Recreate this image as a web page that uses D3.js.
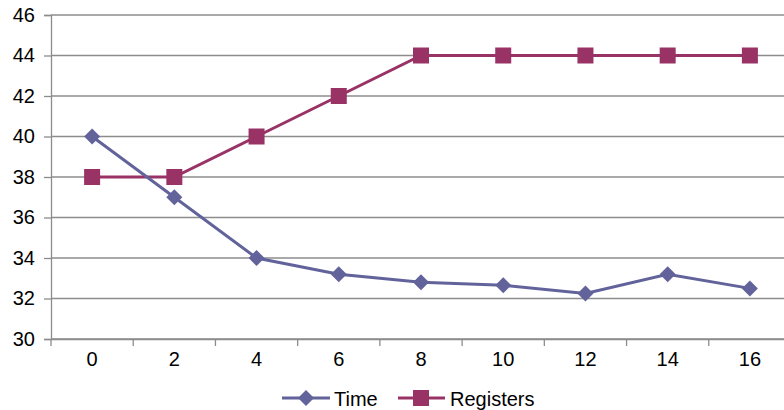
<!DOCTYPE html>
<html><head><meta charset="utf-8">
<script src="https://cdn.jsdelivr.net/npm/d3@7"></script>
<style>body{margin:0;background:#fff}svg{display:block}text{font-family:"Liberation Sans",Arial,sans-serif}</style>
</head><body>
<svg id="c" width="784" height="410"></svg>
<script>
const categories = ["0","2","4","6","8","10","12","14","16"];
const timeValues = [40, 37, 34, 33.2, 32.8, 32.65, 32.25, 33.2, 32.5];
const registerValues = [38, 38, 40, 42, 44, 44, 44, 44, 44];
const yTicks = [30, 32, 34, 36, 38, 40, 42, 44, 46];
const seriesNames = ["Time", "Registers"];

(function () {
const svg = d3.select("#c");
const mLeft = 51, mTop = 15, mBottom = 339, mRight = 791;
const fs = 20;
const x = d3.scaleBand().domain(categories).range([mLeft, mRight]);
const y = d3.scaleLinear().domain([30, 46]).range([mBottom, mTop]);
const grey = "#8c8c8c";
const colors = ["#62639b", "#993366"];

// gridlines
svg.append("g").selectAll("line").data(yTicks).join("line")
  .attr("x1", mLeft).attr("x2", mRight)
  .attr("y1", d => y(d)).attr("y2", d => y(d))
  .attr("stroke", grey).attr("stroke-width", 1.3);

// y axis
const yAxis = svg.append("g").attr("transform", `translate(${mLeft},0)`)
  .call(d3.axisLeft(y).tickValues(yTicks).tickSize(7).tickPadding(9));
yAxis.select(".domain").attr("stroke", grey).attr("stroke-width", 1.3);
yAxis.selectAll(".tick line").attr("stroke", grey).attr("stroke-width", 1.3);
yAxis.selectAll("text").attr("font-size", fs).attr("fill", "#000").attr("font-family", "Liberation Sans, Arial, sans-serif");

// x axis
const xAxis = svg.append("g").attr("transform", `translate(0,${mBottom})`)
  .call(d3.axisBottom(x).tickSize(0).tickPadding(13));
xAxis.select(".domain").attr("stroke", grey).attr("stroke-width", 1.3);
xAxis.selectAll("text").attr("font-size", fs).attr("fill", "#000").attr("font-family", "Liberation Sans, Arial, sans-serif");
// category boundary ticks
const bounds = categories.map(c => x(c)).concat([mRight]);
svg.append("g").selectAll("line").data(bounds).join("line")
  .attr("x1", d => d).attr("x2", d => d)
  .attr("y1", mBottom).attr("y2", mBottom + 7)
  .attr("stroke", grey).attr("stroke-width", 1.3);

const cx = c => x(c) + x.bandwidth() / 2;
const line = d3.line().x((d, i) => cx(categories[i])).y(d => y(d));

function drawDiamond(g, px, py, col) {
  g.append("path").attr("d", `M${px},${py-8}L${px+8},${py}L${px},${py+8}L${px-8},${py}Z`).attr("fill", col);
}
function drawSquare(g, px, py, col) {
  g.append("rect").attr("x", px-8).attr("y", py-8).attr("width", 16).attr("height", 16).attr("fill", col);
}

// Registers
const gR = svg.append("g");
gR.append("path").datum(registerValues).attr("d", line).attr("fill", "none").attr("stroke", colors[1]).attr("stroke-width", 3);
registerValues.forEach((v, i) => drawSquare(gR, cx(categories[i]), y(v), colors[1]));

// Time
const gT = svg.append("g");
gT.append("path").datum(timeValues).attr("d", line).attr("fill", "none").attr("stroke", colors[0]).attr("stroke-width", 3);
timeValues.forEach((v, i) => drawDiamond(gT, cx(categories[i]), y(v), colors[0]));

// legend
const lg = svg.append("g");
const ly = 398;
lg.append("line").attr("x1", 282).attr("x2", 330).attr("y1", ly).attr("y2", ly).attr("stroke", colors[0]).attr("stroke-width", 3);
drawDiamond(lg, 306, ly, colors[0]);
lg.append("text").attr("x", 334).attr("y", ly + 7.5).attr("font-size", fs).text(seriesNames[0]);
lg.append("line").attr("x1", 398).attr("x2", 445).attr("y1", ly).attr("y2", ly).attr("stroke", colors[1]).attr("stroke-width", 3);
drawSquare(lg, 421, ly, colors[1]);
lg.append("text").attr("x", 450).attr("y", ly + 7.5).attr("font-size", fs).text(seriesNames[1]);
})();
</script>
</body></html>
